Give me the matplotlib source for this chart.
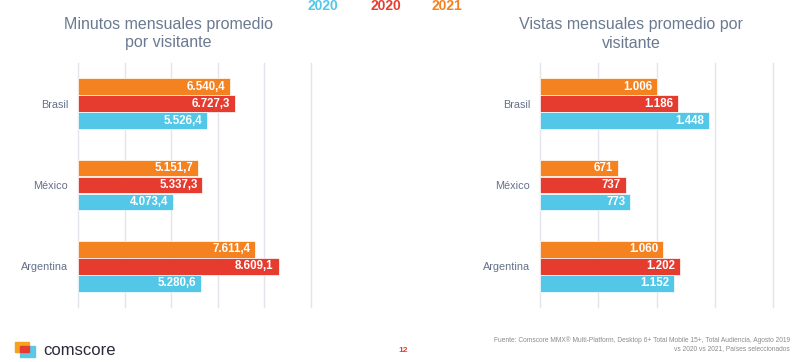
import matplotlib
matplotlib.use("Agg")
import matplotlib.pyplot as plt
from matplotlib.patches import Rectangle

plt.rcParams['font.family'] = ['Liberation Sans', 'DejaVu Sans']

countries = ["Brasil", "México", "Argentina"]
series_labels = ["2021", "2020", "2020"]
minutes_2021 = [6540.4, 5151.7, 7611.4]
minutes_2020_red = [6727.3, 5337.3, 8609.1]
minutes_2020_blue = [5526.4, 4073.4, 5280.6]
views_2021 = [1006, 671, 1060]
views_2020_red = [1186, 737, 1202]
views_2020_blue = [1448, 773, 1152]

minutes_labels = [["6.540,4", "5.151,7", "7.611,4"],
                  ["6.727,3", "5.337,3", "8.609,1"],
                  ["5.526,4", "4.073,4", "5.280,6"]]
views_labels = [["1.006", "671", "1.060"],
                ["1.186", "737", "1.202"],
                ["1.448", "773", "1.152"]]

colors = ["#F58220", "#E63C30", "#52C7E8"]
title_color = "#6B7A90"
label_color = "#647089"

W, H = 800, 362
fig = plt.figure(figsize=(W / 100, H / 100), dpi=100)


def fx(x):
    return x / W


def fy(y):
    return 1 - y / H


def panel(left_px, series, labels, xmax, step):
    ax = fig.add_axes([fx(left_px), fy(307), 233 / W, 244 / H])
    offsets = [-0.21, 0.0, 0.21]
    pos = list(range(len(countries)))
    for s, (vals, labs, off, col) in enumerate(zip(series, labels, offsets, colors)):
        ys = [p + off for p in pos]
        ax.barh(ys, vals, height=0.205, color=col, edgecolor="white", linewidth=0.5, zorder=3)
        for y, v, t in zip(ys, vals, labs):
            ax.annotate(t, xy=(v, y), xytext=(-3.5, 0), textcoords="offset points",
                        ha="right", va="center", color="white", fontsize=8.3,
                        fontweight="bold", zorder=4)
    ax.set_xlim(0, xmax)
    ax.set_ylim(2.5, -0.5)
    ax.set_xticks([i * step for i in range(int(xmax / step) + 1)])
    ax.set_xticklabels([])
    ax.tick_params(axis="x", length=0)
    ax.set_yticks(pos)
    ax.set_yticklabels(countries, fontsize=7.8, color=label_color)
    ax.tick_params(axis="y", length=0, pad=7)
    ax.grid(axis="x", color="#E4E4EC", linewidth=1.0, zorder=0)
    for gl in ax.get_xgridlines():
        gl.set_clip_on(False)
    for sp in ax.spines.values():
        sp.set_visible(False)
    ax.set_facecolor("none")
    return ax


panel(78, [minutes_2021, minutes_2020_red, minutes_2020_blue], minutes_labels, 10000, 2000)
panel(540, [views_2021, views_2020_red, views_2020_blue], views_labels, 2000, 500)

# Titles
fig.text(fx(168), fy(34), "Minutos mensuales promedio\npor visitante", ha="center", va="center",
         fontsize=11.5, color=title_color, linespacing=1.25)
fig.text(fx(631), fy(34), "Vistas mensuales promedio por\nvisitante", ha="center", va="center",
         fontsize=11.5, color=title_color, linespacing=1.25)

# Legend texts
legend_x = [323, 386, 447]
legend_text = ["2020", "2020", "2021"]
legend_cols = [colors[2], colors[1], colors[0]]
for x, t, c in zip(legend_x, legend_text, legend_cols):
    fig.text(fx(x), fy(6.5), t, ha="center", va="center", fontsize=10, fontweight="bold", color=c)

# Footnote
fig.text(fx(790), fy(344), "Fuente: Comscore MMX® Multi-Platform, Desktop 6+ Total Mobile 15+, Total Audiencia, Agosto 2019\nvs 2020 vs 2021, Países seleccionados",
         ha="right", va="center", fontsize=4.8, color="#8C8C8C", linespacing=1.1)

# Page number
fig.text(fx(403.5), fy(351), "12", ha="center", va="center", fontsize=6, color="#E63C30", fontweight="bold")

# Logo
fig.add_artist(Rectangle((fx(15), fy(352)), 14 / W, 10 / H, transform=fig.transFigure,
                         color="#F5A21E", zorder=5))
fig.add_artist(Rectangle((fx(20), fy(357)), 15 / W, 11 / H, transform=fig.transFigure,
                         color="#5CC8E8", zorder=5))
fig.add_artist(Rectangle((fx(20), fy(352)), 9 / W, 6 / H, transform=fig.transFigure,
                         color="#E63C30", zorder=6))
fig.text(fx(43), fy(350.5), "comscore", ha="left", va="center", fontsize=12, color="#2A2A3A")

fig.savefig("out.png", dpi=100)
